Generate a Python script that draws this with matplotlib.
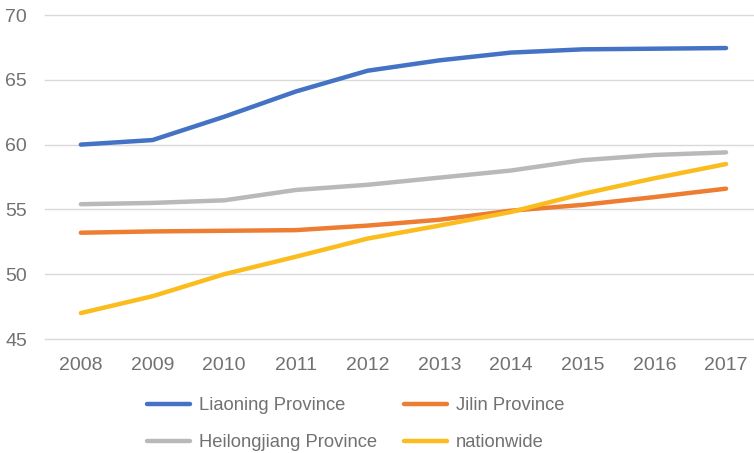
import matplotlib
matplotlib.use("Agg")
from matplotlib import pyplot as plt

years = ["2008", "2009", "2010", "2011", "2012", "2013", "2014", "2015", "2016", "2017"]
liaoning = [60.0, 60.35, 62.15, 64.1, 65.7, 66.5, 67.1, 67.35, 67.4, 67.45]
jilin = [53.2, 53.3, 53.35, 53.4, 53.75, 54.2, 54.9, 55.35, 55.95, 56.6]
heilongjiang = [55.4, 55.5, 55.7, 56.5, 56.9, 57.45, 58.0, 58.8, 59.2, 59.4]
nationwide = [47.0, 48.3, 50.0, 51.35, 52.75, 53.75, 54.8, 56.2, 57.4, 58.5]

series = [
    ("Liaoning Province", liaoning, "#4472C4"),
    ("Jilin Province", jilin, "#ED7D31"),
    ("Heilongjiang Province", heilongjiang, "#B9B9B9"),
    ("nationwide", nationwide, "#FBBC1E"),
]

plt.rcParams["font.family"] = ["Liberation Sans", "DejaVu Sans"]
text_gray = "#717171"

fig = plt.figure(figsize=(7.54, 4.53), dpi=100)
ax = fig.add_axes([45 / 754, 1 - 339 / 453, 1 - 45 / 754, (339 - 15) / 453])

x = list(range(len(years)))
lines = {}
for name, vals, color in series:
    lines[name], = ax.plot(x, vals, color=color, lw=3.2, solid_capstyle="round",
                           solid_joinstyle="round", label=name)

ax.set_ylim(45, 70)
ax.set_yticks(range(45, 71, 5))
ax.set_xlim(-0.5, 9.39)
ax.set_xticks(x)
ax.set_xticklabels(years)

ax.grid(axis="y", color="#D9D9D9", lw=1)
for gl in ax.yaxis.get_gridlines():
    gl.set_clip_on(False)  # keep the 45 and 70 lines at full width
ax.set_axisbelow(True)
for s in ax.spines.values():
    s.set_visible(False)
ax.tick_params(axis="both", length=0, labelsize=14, colors=text_gray)
ax.tick_params(axis="y", pad=13)
ax.tick_params(axis="x", pad=13)

# legend fills column by column, so order the handles for two rows
order = ["Liaoning Province", "Heilongjiang Province", "Jilin Province", "nationwide"]
fig.legend([lines[n] for n in order], order, loc="center",
           bbox_to_anchor=(0.472, 1 - 424 / 453), ncol=2,
           frameon=False, fontsize=13.2, labelcolor=text_gray,
           handlelength=2.3, handletextpad=0.5, columnspacing=1.5,
           labelspacing=1.1)

fig.savefig("out.png", dpi=100)
